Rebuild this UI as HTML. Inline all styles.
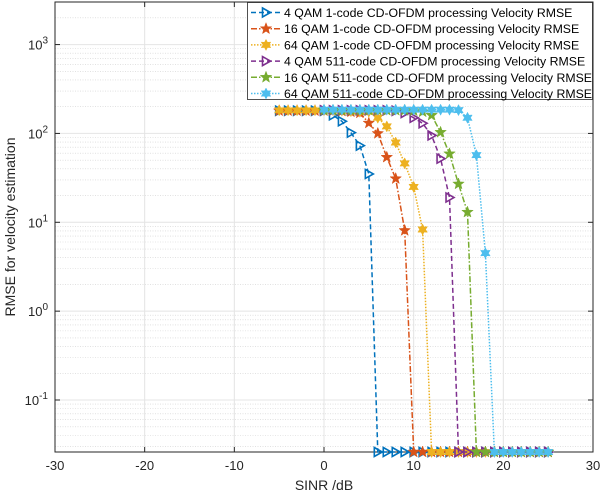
<!DOCTYPE html>
<html><head><meta charset="utf-8"><style>
html,body{margin:0;padding:0;background:#fff;}
svg{display:block;font-family:"Liberation Sans",sans-serif;}
</style></head><body>
<svg id="chart" width="600" height="496"></svg>
<script>
const xStarts=[-5,-5,-5,0,0,0];
const seriesNames=["4 QAM 1-code CD-OFDM processing Velocity RMSE","16 QAM 1-code CD-OFDM processing Velocity RMSE","64 QAM 1-code CD-OFDM processing Velocity RMSE","4 QAM 511-code CD-OFDM processing Velocity RMSE","16 QAM 511-code CD-OFDM processing Velocity RMSE","64 QAM 511-code CD-OFDM processing Velocity RMSE"];
const F=0.026;
const s1=[180,180,180,180,180,180,160,137,102,73,35,F,F,F,F,F,F,F,F,F,F,F,F,F,F,F,F,F,F,F,F];
const s2=[180,180,180,180,180,180,180,178,175,170,131,100,54,31,8.1,F,F,F,F,F,F,F,F,F,F,F,F,F,F,F,F];
const s3=[182,182,182,182,182,182,182,180,178,175,175,150,120,79,46,25,8.3,F,F,F,F,F,F,F,F,F,F,F,F,F,F];
const s4=[182,182,182,182,182,182,182,182,180,170,150,130,95,52,19,F,F,F,F,F,F,F,F,F,F,F];
const s5=[182,182,182,182,182,182,182,182,182,182,180,175,160,103,59,27,13,F,F,F,F,F,F,F,F,F];
const s6=[185,185,185,185,185,185,185,185,185,185,185,185,185,185,185,183,150,57,4.5,F,F,F,F,F,F,F];
const xTicks=[-30,-20,-10,0,10,20,30];
const yTickExp=[-1,0,1,2,3];
const colors=["#0072BD","#D95319","#EDB120","#7E2F8E","#77AC30","#4DBEEE"];
const dashes=["5,3","6,2,1.5,2","1.5,1.5","5,3","6,2,1.5,2","1.5,1.5"];
const markers=["tri","star","hex","tri","star","hex"];
const NS="http://www.w3.org/2000/svg";
const svg=document.getElementById('chart');
const L=55,R=593,T=2,B=452;
const xMin=-30,xMax=30,yMinL=Math.log10(F),yMaxL=3.479;
function xs(v){return L+(v-xMin)/(xMax-xMin)*(R-L);}
function ys(v){return B-(Math.log10(v)-yMinL)/(yMaxL-yMinL)*(B-T);}
function mk(tag,a,p){const e=document.createElementNS(NS,tag);for(const k in a)e.setAttribute(k,a[k]);(p||svg).appendChild(e);return e;}
const grid=mk('g',{});


for(let e=-2;e<=3;e++){for(let m=1;m<10;m++){const v=m*Math.pow(10,e);const y=ys(v);if(y<T||y>B)continue;
 if(m===1)mk('line',{x1:L,x2:R,y1:y,y2:y,stroke:'#e4e4e4','stroke-width':1},grid);
 else mk('line',{x1:L,x2:R,y1:y,y2:y,stroke:'#d0d0d0','stroke-width':0.6,'stroke-dasharray':'1,1.5'},grid);}}
xTicks.forEach(t=>{const x=xs(t);mk('line',{x1:x,x2:x,y1:T,y2:B,stroke:'#e4e4e4','stroke-width':1},grid);});
const box=mk('rect',{x:L,y:T,width:R-L,height:B-T,fill:'none',stroke:'#262626','stroke-width':1});


xTicks.forEach(t=>{const x=xs(t);mk('line',{x1:x,x2:x,y1:B,y2:B-5,stroke:'#262626'});mk('line',{x1:x,x2:x,y1:T,y2:T+5,stroke:'#262626'});
 const tx=mk('text',{x:x,y:B+18,'text-anchor':'middle','font-size':13,fill:'#262626'});tx.textContent=t;
 
 });
yTickExp.forEach(e=>{const y=ys(Math.pow(10,e));mk('line',{x1:L,x2:L+5,y1:y,y2:y,stroke:'#262626'});mk('line',{x1:R,x2:R-5,y1:y,y2:y,stroke:'#262626'});
 const tx=mk('text',{x:L-7,y:y+5,'text-anchor':'end','font-size':13,fill:'#262626'});
 
 
 const a=document.createElementNS(NS,'tspan');a.textContent='10';tx.appendChild(a);
 const b=document.createElementNS(NS,'tspan');b.setAttribute('dy','-6');b.setAttribute('font-size','10');b.textContent=e;tx.appendChild(b);});
const xl=mk('text',{x:324,y:490,'text-anchor':'middle','font-size':14,fill:'#262626'});xl.textContent='SINR /dB';


const yl=mk('text',{x:0,y:0,'text-anchor':'middle','font-size':14,fill:'#262626',transform:'translate(15,227) rotate(-90)'});yl.textContent='RMSE for velocity estimation';


function starPts(cx,cy,n,ro,ri){let p=[];for(let i=0;i<2*n;i++){const r=i%2?ri:ro;const a=-Math.PI/2+i*Math.PI/n;p.push((cx+r*Math.cos(a)).toFixed(1)+','+(cy+r*Math.sin(a)).toFixed(1));}return p.join(' ');}
function marker(type,cx,cy,c,g){
 if(type==='tri')return mk('polygon',{points:`${cx-3.5},${cy-4.5} ${cx+4.5},${cy} ${cx-3.5},${cy+4.5}`,fill:'none',stroke:c,'stroke-width':1.6},g);
 if(type==='star')return mk('polygon',{points:starPts(cx,cy,5,6,2.5),fill:c,stroke:c,'stroke-width':0.5},g);
 return mk('polygon',{points:starPts(cx,cy,6,5.5,3),fill:c,stroke:c,'stroke-width':0.5},g);}
const all=[s1,s2,s3,s4,s5,s6];
all.forEach((s,i)=>{const g=mk('g',{});
 
 
 const pts=s.map((v,j)=>[xs(xStarts[i]+j),ys(v)]);
 mk('polyline',{points:pts.map(p=>p[0].toFixed(1)+','+p[1].toFixed(1)).join(' '),fill:'none',stroke:colors[i],'stroke-width':1.5,'stroke-dasharray':dashes[i]},g);
 pts.forEach(p=>marker(markers[i],p[0],p[1],colors[i],g));});
const lg=mk('g',{});


mk('rect',{x:247.5,y:2.5,width:345,height:97,fill:'#fff',stroke:'#262626','stroke-width':0.8},lg);
seriesNames.forEach((n,i)=>{const y=12.5+i*16.2;const e=mk('g',{},lg);
 
 
 mk('line',{x1:251,x2:281,y1:y,y2:y,stroke:colors[i],'stroke-width':1.5,'stroke-dasharray':dashes[i]},e);
 marker(markers[i],266,y,colors[i],e);
 const t=mk('text',{x:284,y:y+4.5,'font-size':12.3,fill:'#000'},e);t.textContent=n;});
</script>
</body></html>
